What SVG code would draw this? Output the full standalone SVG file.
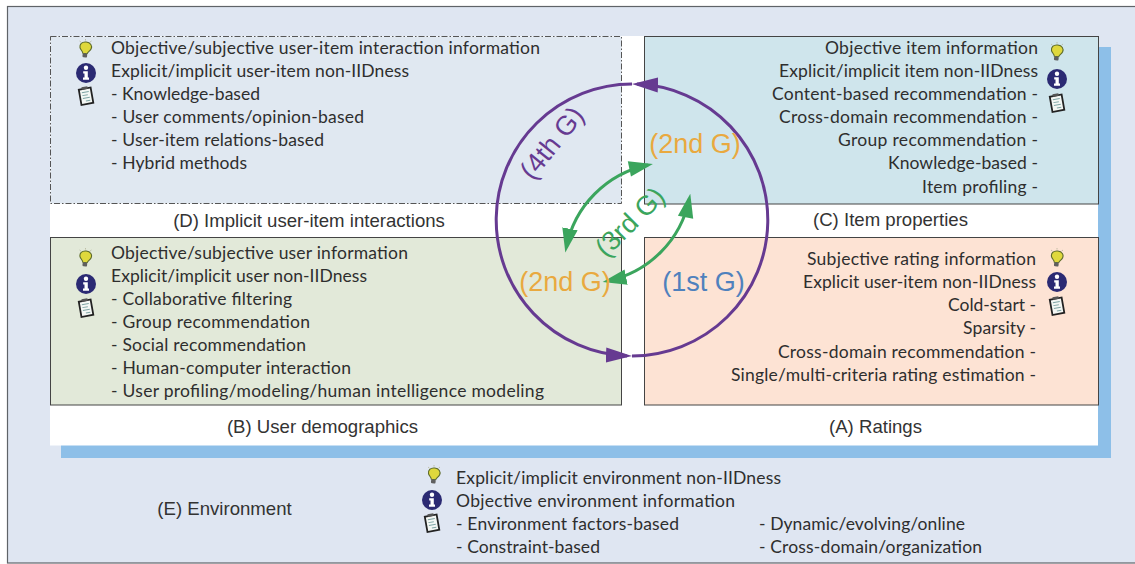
<svg xmlns="http://www.w3.org/2000/svg" xmlns:xlink="http://www.w3.org/1999/xlink" width="1135" height="564" viewBox="0 0 1135 564">
<style>
.t{font-family:"Lato","Noto Sans",sans-serif;font-size:17.5px;fill:#2e2e2e}
.r{text-anchor:end}
.l{font-family:"Liberation Sans",Arial,sans-serif;font-size:18.6px;fill:#333;text-anchor:middle}
.g{font-family:"Liberation Sans",Arial,sans-serif;font-size:27px;text-anchor:middle}
.p{stroke:#444;stroke-width:1}
.c{fill:none;stroke-width:3}
</style>
<defs>
<marker id="ap" markerUnits="userSpaceOnUse" markerWidth="30" markerHeight="24" refX="21" refY="12" orient="auto"><path d="M0 4.500L26 12L0 19.500Z" fill="#663a91"/></marker>
<marker id="ag" markerUnits="userSpaceOnUse" markerWidth="30" markerHeight="24" refX="19" refY="12" orient="auto"><path d="M0 4.200L24 12L0 19.800Z" fill="#3ba55d"/></marker>
<marker id="ags" markerUnits="userSpaceOnUse" markerWidth="30" markerHeight="24" refX="5" refY="12" orient="auto"><path d="M24 4.200L0 12L24 19.800Z" fill="#3ba55d"/></marker>
<g id="bulb"><g transform="rotate(6)"><path d="M0-7C4.500-7 6.500-4 5.600-.8C5 1.300 2.600 2.300 2.200 4.500L-2.200 4.500C-2.600 2.300-5 1.300-5.600-.8C-6.500-4-4.500-7 0-7Z" fill="#dfd83c" stroke="#5d6b2a" stroke-width="1.100"/><rect x="-2.300" y="4.500" width="4.600" height="4" rx="1.300" fill="#5f5f5f"/></g><path d="M-6-8L-4.500-6.800M6-8L4.500-6.800M0-10V-8.500" stroke="#b5b59a" stroke-width=".8"/></g>
<g id="info"><circle r="10" fill="#2b2a73"/><circle cy="-5.200" r="2.200" fill="#fff"/><path d="M-2.800-1.800H1.800V4.500H3V6.800H-3V4.500H-1.500V.5H-2.800Z" fill="#fff"/></g>
<g id="clip"><g transform="rotate(-10)"><rect x="-6" y="-7.500" width="12" height="15.500" fill="#f4f7f4" stroke="#222" stroke-width="1.800"/><rect x="-3" y="-9.300" width="6" height="2.500" fill="#555"/><path d="M-3.500-4H3.500M-3.500-1H2M-3.500 2H3.500M-1 5H3.500" stroke="#7fa5a5" stroke-width="1"/></g></g>
</defs>
<rect id="frame" x="7.500" y="6.500" width="1130" height="556.500" fill="#dfe6f2" stroke="#5f6368" stroke-width="1.200"/>
<rect x="61" y="47" width="1050" height="411" fill="#8dbfe8"/>
<rect x="50" y="36" width="1048" height="409.500" fill="#fff"/>
<g id="node-d">
<rect x="50.500" y="36.500" width="571" height="167" fill="#e0e8f1" stroke="#555" stroke-dasharray="6 2 1.500 2"/>
<use xlink:href="#bulb" href="#bulb" x="85.500" y="49"/><use xlink:href="#info" href="#info" x="86" y="73"/><use xlink:href="#clip" href="#clip" x="86" y="96"/>
<text class="t" x="111" y="53.500" textLength="429">Objective/subjective user-item interaction information</text>
<text class="t" x="111" y="77" textLength="298">Explicit/implicit user-item non-IIDness</text>
<text class="t" x="111" y="100" textLength="149">- Knowledge-based</text>
<text class="t" x="111" y="123" textLength="253">- User comments/opinion-based</text>
<text class="t" x="111" y="146" textLength="213">- User-item relations-based</text>
<text class="t" x="111" y="169" textLength="136">- Hybrid methods</text>
<text class="l" x="309" y="227">(D) Implicit user-item interactions</text>
</g>
<g id="node-c">
<rect x="644.500" y="36.500" width="454" height="167.500" fill="#cfe5ec" class="p"/>
<use xlink:href="#bulb" href="#bulb" x="1057" y="52"/><use xlink:href="#info" href="#info" x="1057" y="79"/><use xlink:href="#clip" href="#clip" x="1057" y="103"/>
<text class="t r" x="1038" y="53.500" textLength="213">Objective item information</text>
<text class="t r" x="1038" y="77" textLength="259">Explicit/implicit item non-IIDness</text>
<text class="t r" x="1038" y="100" textLength="266">Content-based recommendation -</text>
<text class="t r" x="1038" y="123" textLength="259">Cross-domain recommendation -</text>
<text class="t r" x="1038" y="146" textLength="200">Group recommendation -</text>
<text class="t r" x="1038" y="169" textLength="150">Knowledge-based -</text>
<text class="t r" x="1038" y="193" textLength="116">Item profiling -</text>
<text class="l" x="890.500" y="226">(C) Item properties</text>
</g>
<g id="node-b">
<rect x="50.500" y="237.500" width="571" height="167.500" fill="#e2e9d9" class="p"/>
<use xlink:href="#bulb" href="#bulb" x="85.500" y="258"/><use xlink:href="#info" href="#info" x="86" y="284"/><use xlink:href="#clip" href="#clip" x="86" y="308"/>
<text class="t" x="111" y="258.500" textLength="297">Objective/subjective user information</text>
<text class="t" x="111" y="282" textLength="256">Explicit/implicit user non-IIDness</text>
<text class="t" x="111" y="305" textLength="181">- Collaborative filtering</text>
<text class="t" x="111" y="328" textLength="199">- Group recommendation</text>
<text class="t" x="111" y="351" textLength="195">- Social recommendation</text>
<text class="t" x="111" y="374" textLength="240">- Human-computer interaction</text>
<text class="t" x="111" y="397" textLength="433">- User profiling/modeling/human intelligence modeling</text>
<text class="l" x="322.500" y="433">(B) User demographics</text>
</g>
<g id="node-a">
<rect x="644.500" y="237.500" width="454" height="167.500" fill="#fde3d4" class="p"/>
<use xlink:href="#bulb" href="#bulb" x="1057" y="258"/><use xlink:href="#info" href="#info" x="1057" y="282"/><use xlink:href="#clip" href="#clip" x="1057" y="306"/>
<text class="t r" x="1036" y="265" textLength="229">Subjective rating information</text>
<text class="t r" x="1036" y="288" textLength="233">Explicit user-item non-IIDness</text>
<text class="t r" x="1036" y="311" textLength="88">Cold-start -</text>
<text class="t r" x="1036" y="334" textLength="73">Sparsity -</text>
<text class="t r" x="1036" y="358" textLength="258">Cross-domain recommendation -</text>
<text class="t r" x="1036" y="381" textLength="305">Single/multi-criteria rating estimation -</text>
<text class="l" x="875.500" y="433">(A) Ratings</text>
</g>
<g id="node-e">
<use xlink:href="#bulb" href="#bulb" x="434" y="475"/><use xlink:href="#info" href="#info" x="432" y="500"/><use xlink:href="#clip" href="#clip" x="432" y="523"/>
<text class="t" x="456" y="484" textLength="325">Explicit/implicit environment non-IIDness</text>
<text class="t" x="456" y="507" textLength="279">Objective environment information</text>
<text class="t" x="456" y="530" textLength="223">- Environment factors-based</text>
<text class="t" x="456" y="553" textLength="144">- Constraint-based</text>
<text class="t" x="759" y="530" textLength="206">- Dynamic/evolving/online</text>
<text class="t" x="759" y="553" textLength="223">- Cross-domain/organization</text>
<text class="l" x="224.500" y="515">(E) Environment</text>
</g>
<g id="connectors">
<path class="c" stroke="#663a91" d="M632 84A136 136 0 0 0 627 355.900" marker-end="url(#ap)"/>
<path class="c" stroke="#663a91" d="M632 356A136 136 0 0 0 637 84.100" marker-end="url(#ap)"/>
<path class="c" stroke="#3ba55d" d="M648 165A105 105 0 0 0 566.300 247.500" marker-start="url(#ags)" marker-end="url(#ag)"/>
<path class="c" stroke="#3ba55d" d="M689.300 198.700A105 105 0 0 1 607.500 280.900" marker-start="url(#ags)" marker-end="url(#ag)"/>
</g>
<g id="generations">
<text class="g" fill="#e9a93f" x="695" y="153">(2nd G)</text>
<text class="g" fill="#e9a93f" x="565" y="291">(2nd G)</text>
<text class="g" fill="#4f81bd" x="703.500" y="291">(1st G)</text>
<text class="g" fill="#663a91" transform="translate(552 143) rotate(-51)" y="9">(4th G)</text>
<text class="g" fill="#3ba55d" transform="translate(630 222) rotate(-45)" y="9">(3rd G)</text>
</g>
</svg>
